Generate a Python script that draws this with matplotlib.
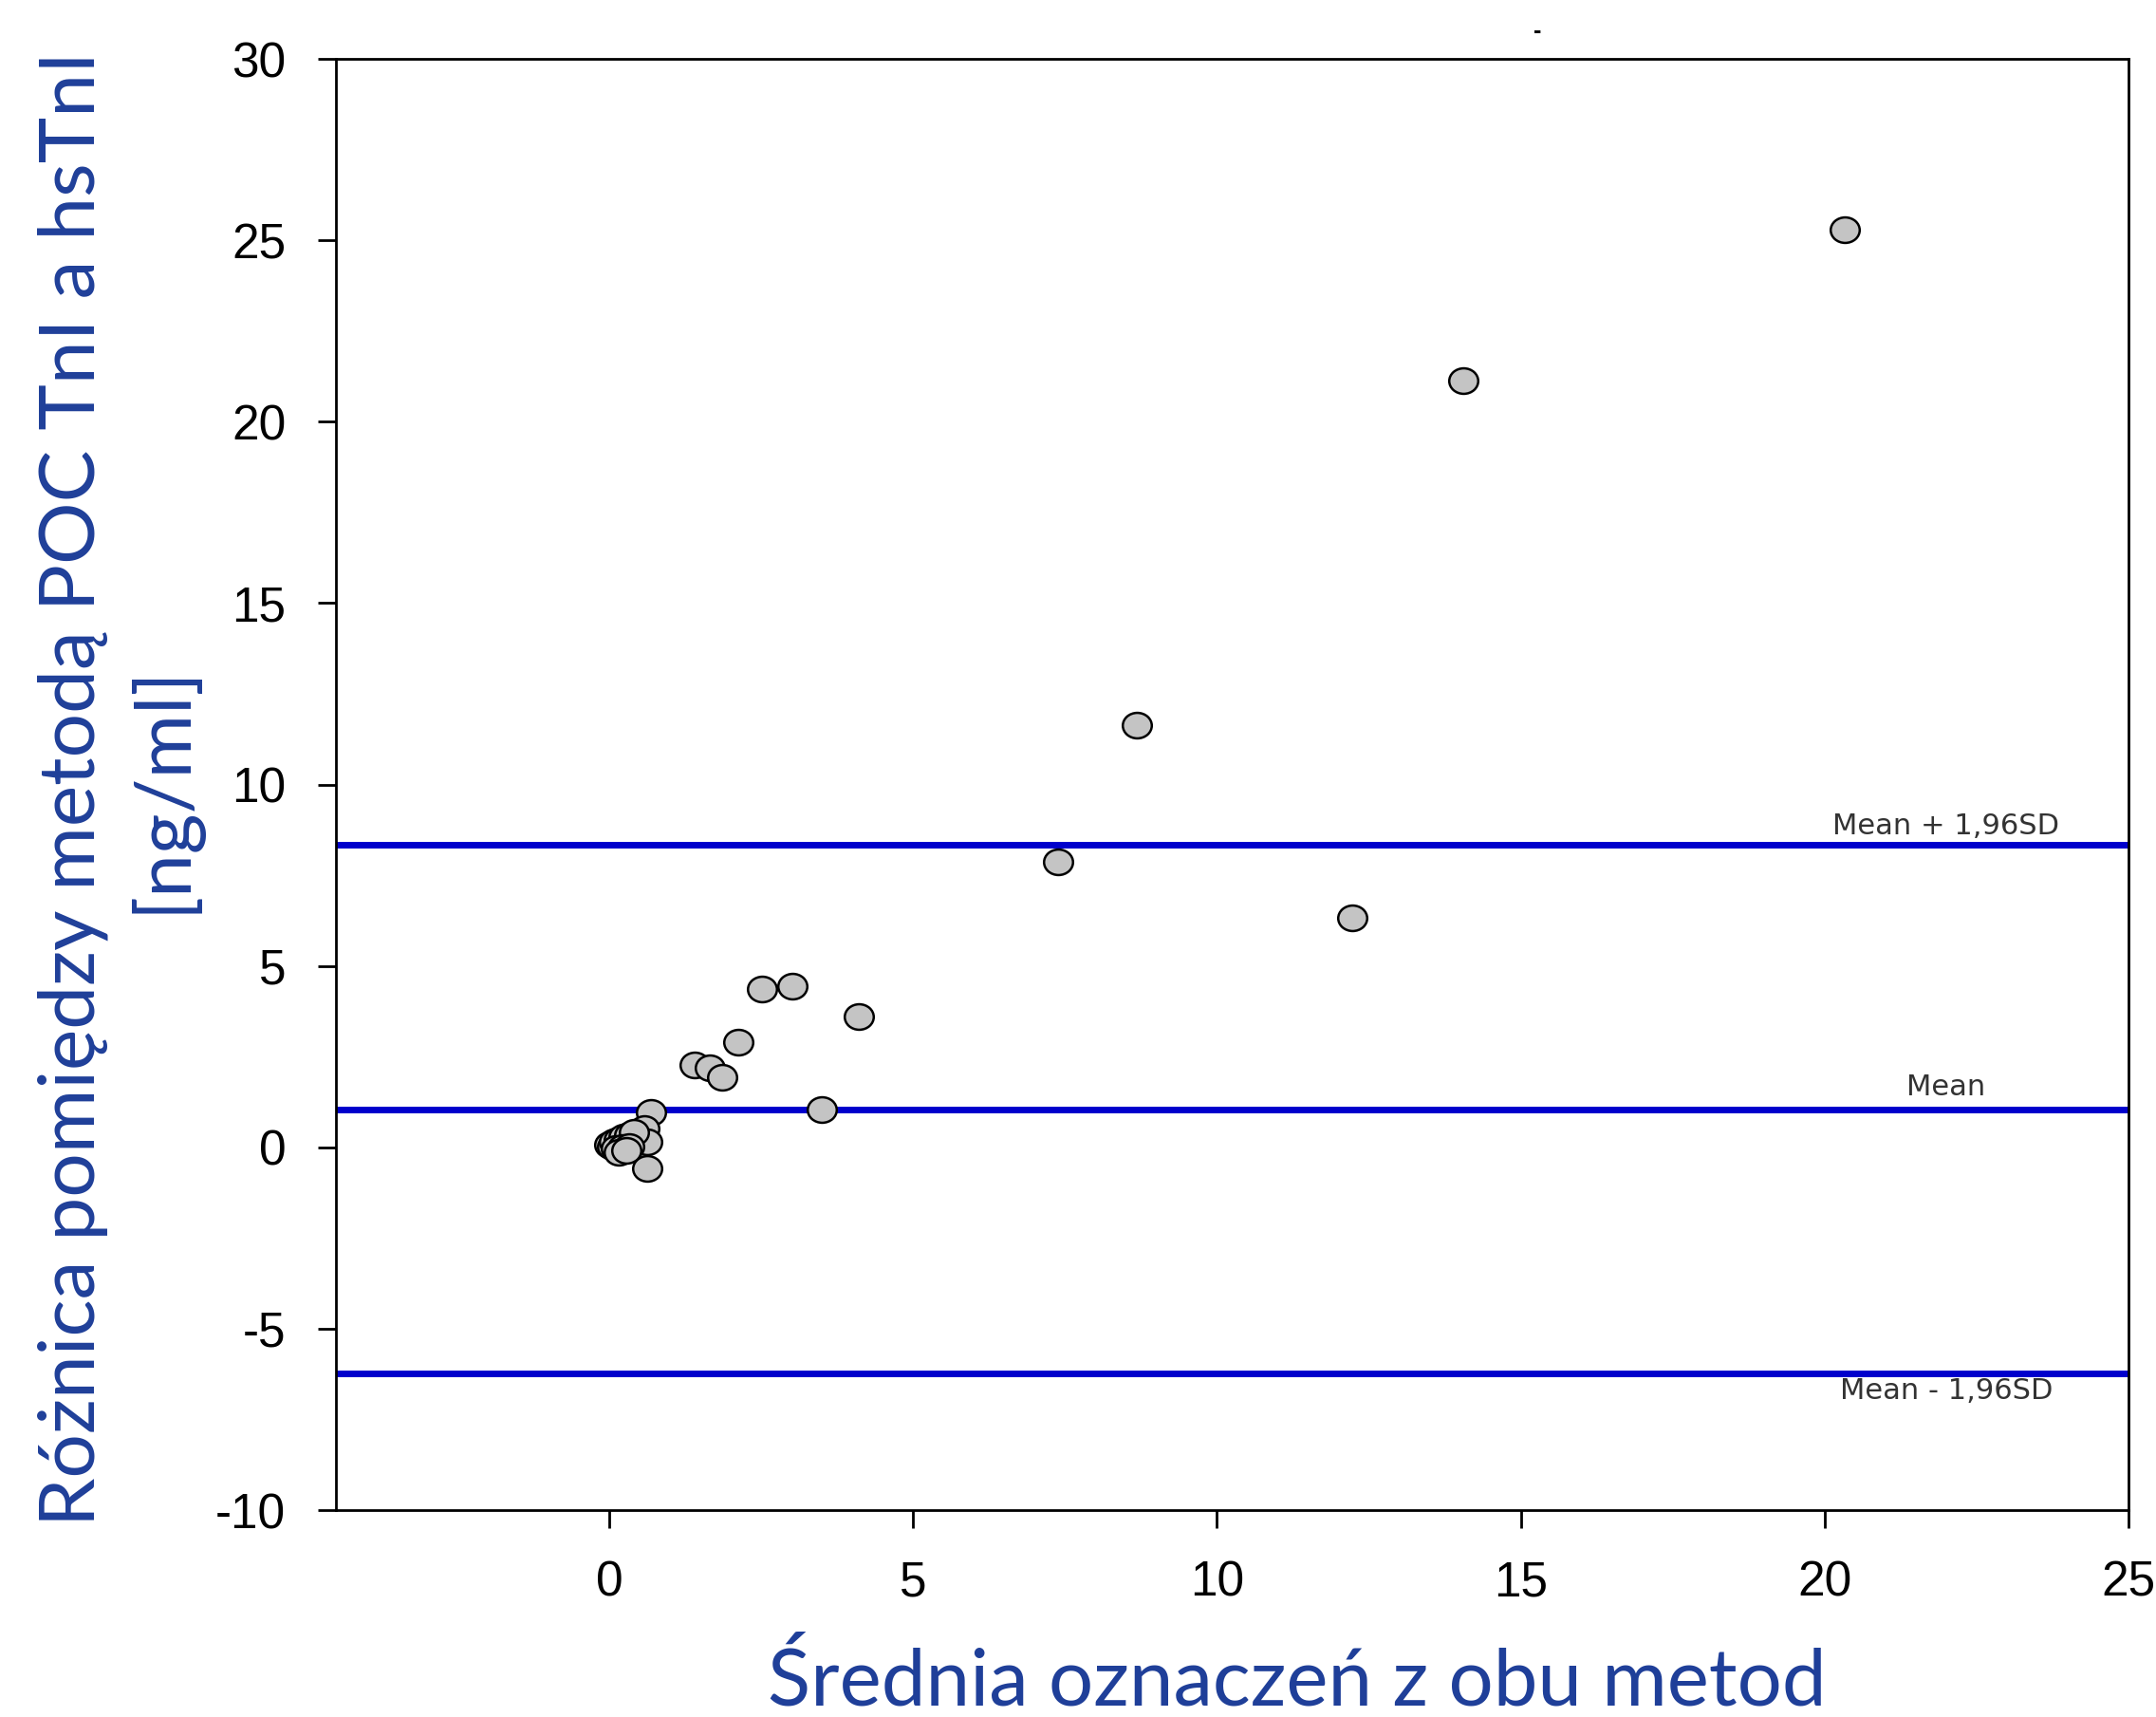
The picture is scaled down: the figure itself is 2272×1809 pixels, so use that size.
import matplotlib.pyplot as plt
from matplotlib.path import Path
from matplotlib.transforms import Affine2D

plt.rcParams['font.family'] = ['Liberation Sans', 'DejaVu Sans']
plt.rcParams['axes.unicode_minus'] = False

# average of both methods vs difference POC TnI - hsTnI
srednia = [20.33, 14.05, 8.68, 7.39, 12.22, 2.52, 3.02, 4.10, 2.12, 1.41, 1.65, 1.86,
           3.50, 0.69, 0.58, 0.62, 0.63,
           0.00, 0.05, 0.08, 0.16, 0.24, 0.32, 0.40, 0.11, 0.21, 0.32, 0.16, 0.28]
roznica = [25.30, 21.14, 11.63, 7.88, 6.33, 4.36, 4.43, 3.60, 2.90, 2.26, 2.18, 1.94,
           1.03, 0.95, 0.52, 0.15, -0.58,
           0.07, 0.02, 0.14, 0.20, 0.27, 0.33, 0.42, -0.03, -0.01, 0.01, -0.14, -0.08]

mean_diff = 1.05
loa_upper = 8.33
loa_lower = -6.22

x_ticks = [0, 5, 10, 15, 20, 25]
y_ticks = [-10, -5, 0, 5, 10, 15, 20, 25, 30]

label_blue = '#1f3f99'

fig = plt.figure(figsize=(22.72, 18.09), dpi=100)
ax = fig.add_axes([0.1558, 0.1205, 0.8314, 0.8452])

# slightly flattened circles like the original export
oval = Affine2D().scale(1.0, 0.88).transform_path(Path.unit_circle())
ax.scatter(srednia, roznica, s=22 ** 2, marker=oval, facecolor='#c4c4c4',
           edgecolor='black', linewidth=1.8, zorder=3)

for y in (loa_upper, mean_diff, loa_lower):
    ax.axhline(y, color='#0000cc', lw=5, zorder=2)

txt = dict(ha='center', fontsize=22, family='DejaVu Sans', color='#333333',
           textcoords='offset points')
ax.annotate('Mean + 1,96SD', xy=(22.0, loa_upper), xytext=(0, 4), va='bottom', **txt)
ax.annotate('Mean', xy=(22.0, mean_diff), xytext=(0, 6), va='bottom', **txt)
ax.annotate('Mean - 1,96SD', xy=(22.0, loa_lower), xytext=(0, -3), va='top', **txt)

ax.set_xlim(-4.5, 25)
ax.set_ylim(-10, 30)
ax.set_xticks(x_ticks)
ax.set_yticks(y_ticks)
ax.tick_params(direction='out', length=14, width=2, labelsize=37, pad=24)
for s in ax.spines.values():
    s.set_linewidth(2)

ax.set_xlabel('Średnia oznaczeń z obu metod', fontsize=60, family='Lato',
              color=label_blue)
ax.xaxis.set_label_coords(0.536, -0.093)
ax.set_ylabel('Różnica pomiędzy metodą POC TnI a hsTnI\n[ng/ml]', fontsize=59,
              family='Lato', color=label_blue, linespacing=1.3)
ax.yaxis.set_label_coords(-0.076, 0.497)

# stray dash above the frame in the original
fig.text(1620 / 2272, 1 - 33 / 1809, '-', fontsize=18, weight='bold',
         ha='center', va='center')

fig.savefig('out.png', dpi=100)
